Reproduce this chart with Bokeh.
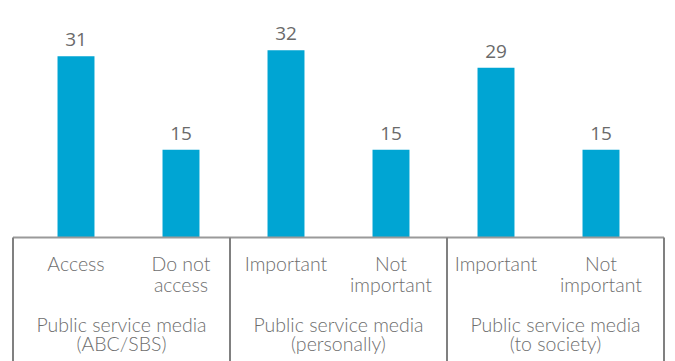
from bokeh.plotting import figure
from bokeh.models import Range1d, ColumnDataSource
from bokeh.core.properties import value
from bokeh.embed import file_html
from bokeh.resources import INLINE

# ---- data ----
categories = ["Access", "Do not\naccess", "Important", "Not\nimportant", "Important", "Not\nimportant"]
values = [31, 15, 32, 15, 29, 15]
groups = ["Public service media\n(ABC/SBS)", "Public service media\n(personally)", "Public service media\n(to society)"]

W, H = 675, 361
PX = 5.85          # pixels per percentage point
BASE = 237         # baseline pixel from top
STEP = 105.0       # pixels per category
x0 = -75.5 / STEP
x1 = x0 + W / STEP
y1 = BASE / PX
y0 = -(H - BASE) / PX

p = figure(width=W, height=H, x_range=Range1d(x0, x1), y_range=Range1d(y0, y1),
           output_backend="svg", toolbar_location=None, min_border=0,
           outline_line_color=None, background_fill_color="white",
           border_fill_color="white")
p.axis.visible = False
p.grid.visible = False

n = len(values)
xs = list(range(n))
src = ColumnDataSource(dict(x=xs, top=values, cat=categories,
                            lab=[str(v) for v in values]))

p.vbar(x="x", top="top", bottom=0, width=0.352, source=src,
       fill_color="#00A5D3", line_color=None)

# value labels
p.text(x="x", y="top", text="lab", source=src, text_align="center",
       text_baseline="bottom", y_offset=-10,
       text_font=value("Open Sans"), text_font_size="19px", text_color="#6a6a6a")

# axis frame
left, right = -0.6, 5.6
gw = (right - left) / 3
bounds = [left + gw * i for i in range(4)]
p.segment(x0=[left], y0=[0], x1=[right], y1=[0], line_color="#9a9a9a", line_width=2)
p.segment(x0=bounds, y0=[0] * 4, x1=bounds, y1=[y0] * 4, line_color="#808080", line_width=2)

LFONT = value("Lato Light, Lato")

# category labels
p.text(x="x", y=0, text="cat", source=src, text_align="center",
       text_baseline="top", y_offset=14,
       text_font=LFONT, text_font_size="19.5px", text_color="#6e6e6e",
       text_line_height=0.92)

# group labels
gsrc = ColumnDataSource(dict(x=[left + gw * (i + 0.5) for i in range(3)], t=groups))
p.text(x="x", y=0, text="t", source=gsrc, text_align="center",
       text_baseline="top", y_offset=75,
       text_font=LFONT, text_font_size="19.5px", text_color="#6e6e6e",
       text_line_height=0.855)

open("out.html", "w").write(file_html(p, INLINE))
